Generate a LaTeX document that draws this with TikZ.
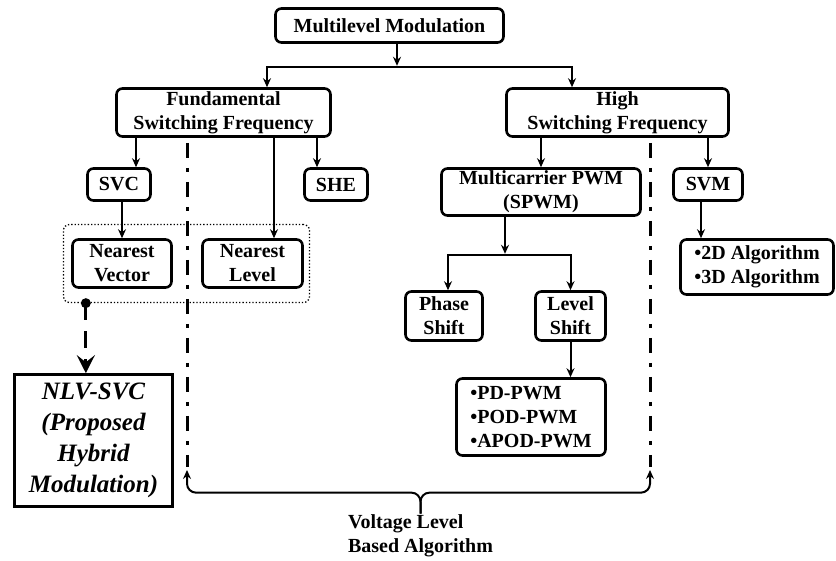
\documentclass[tikz,border=0pt]{standalone}
\usepackage{fontspec}
\setmainfont{Liberation Serif}
\usetikzlibrary{arrows.meta}

\tikzset{
	box/.style={draw, line width=2.6pt, rounded corners=6pt, inner sep=0pt, align=center,
		font=\bfseries\fontsize{20}{24}\selectfont},
	conn/.style={line width=2pt},
	arr/.style={conn, -{Stealth[length=9pt,width=8pt,inset=3pt]}},
	dasharr/.style={line width=3pt, dash pattern=on 17pt off 11pt,
		-{Stealth[length=18pt,width=18pt,inset=7pt]}},
	vline/.style={line width=3pt, dash pattern=on 15pt off 10pt on 4pt off 10pt},
}

\begin{document}
\begin{tikzpicture}[x=1pt, y=-1pt]
	%%%%% START %%%%%
	\useasboundingbox (0, 0) rectangle (836, 561);
	
	% top level
	\node[box, minimum width=228, minimum height=34] (mlm) at (389.5, 25.5) {Multilevel Modulation};
	\node[box, minimum width=214, minimum height=48] (fund) at (223.5, 112.5) {Fundamental\\Switching Frequency};
	\node[box, minimum width=222, minimum height=48] (high) at (617.5, 112.5) {High\\Switching Frequency};
	
	% fundamental branch
	\node[box, minimum width=63, minimum height=32] (svc) at (119, 184.5) {SVC};
	\node[box, minimum width=63, minimum height=32] (she) at (336, 184.5) {SHE};
	\node[box, minimum width=99, minimum height=48] (nv) at (122, 263.5) {Nearest\\Vector};
	\node[box, minimum width=100, minimum height=48] (nl) at (252.5, 263.5) {Nearest\\Level};
	\node[draw, dotted, line width=1.3pt, rounded corners=6pt, minimum width=246, minimum height=78] (grp) at (186.5, 263.5) {};
	\node[draw, line width=2.6pt, minimum width=158, minimum height=132, inner sep=0pt, align=center,
		font=\bfseries\itshape\fontsize{25}{31}\selectfont] (nlv) at (93.5, 440.5) {NLV-SVC\\(Proposed\\Hybrid\\Modulation)};
	
	% high branch
	\node[box, minimum width=199, minimum height=47] (mc) at (541, 192) {Multicarrier PWM\\(SPWM)};
	\node[box, minimum width=69, minimum height=32] (svm) at (708, 184.5) {SVM};
	\node[box, minimum width=153, minimum height=55, align=left] (alg) at (757, 267) {•2D Algorithm\\•3D Algorithm};
	\node[box, minimum width=77, minimum height=49] (phase) at (444, 316) {Phase\\Shift};
	\node[box, minimum width=70, minimum height=49] (level) at (570.5, 316) {Level\\Shift};
	\node[box, minimum width=149, minimum height=77, align=left] (pd) at (531, 417) {•PD-PWM\\•POD-PWM\\•APOD-PWM};
	
	\node[align=left, inner sep=1pt, font=\bfseries\fontsize{20}{24}\selectfont] (vlba) at (420.5, 536) {Voltage Level\\Based Algorithm};
	
	% connectors
	\coordinate (top bus) at ([xshift=7.5, yshift=-23]mlm.south);
	\draw[arr] ([xshift=7.5]mlm.south) -- ([yshift=1]top bus);
	\draw[arr] (top bus) -| ([xshift=43.5]fund.north);
	\draw[arr] (top bus) -| ([xshift=-45.5]high.north);
	
	\draw[arr] ([xshift=17]svc.north |- fund.south) -- ([xshift=17]svc.north);
	\draw[arr] ([xshift=21.5]nl.north |- fund.south) -- ([xshift=21.5]nl.north);
	\draw[arr] ([xshift=-19]she.north |- fund.south) -- ([xshift=-19]she.north);
	\draw[arr] (nv.north |- svc.south) -- (nv.north);
	
	\draw[arr] (high.south -| mc.north) -- (mc.north);
	\draw[arr] (high.south -| svm.north) -- (svm.north);
	\draw[arr] ([xshift=-7]svm.south) -- ([xshift=-7]svm.south |- alg.north);
	
	\coordinate (mid bus) at ([xshift=-36, yshift=-38]mc.south);
	\draw[arr] ([xshift=-36]mc.south) -- ([yshift=1]mid bus);
	\draw[arr] (mid bus) -| ([xshift=4]phase.north);
	\draw[arr] (mid bus) -| (level.north);
	\draw[arr] (level.south) -- (level.south |- pd.north);
	
	% proposed hybrid
	\coordinate (dot) at ([xshift=23]grp.south west);
	\fill (dot) circle (5);
	\draw[dasharr] (dot) -- (nlv.north -| dot);
	
	% voltage level based algorithm
	\coordinate (vl top) at (187, 143);
	\coordinate (vl bot) at (187, 467);
	\coordinate (vr top) at (650, 143);
	\coordinate (vr bot) at (650, 467);
	\draw[vline] (vl top) -- (vl bot);
	\draw[vline] (vr top) -- (vr bot);
	
	\draw[arr, rounded corners=9pt] (vlba.north) -- ++(0, -21) -| ([yshift=-3]vl bot);
	\draw[arr, rounded corners=9pt] (vlba.north) -- ++(0, -21) -| ([yshift=-3]vr bot);
	
	%%%%% END %%%%%
\end{tikzpicture}
\end{document}
